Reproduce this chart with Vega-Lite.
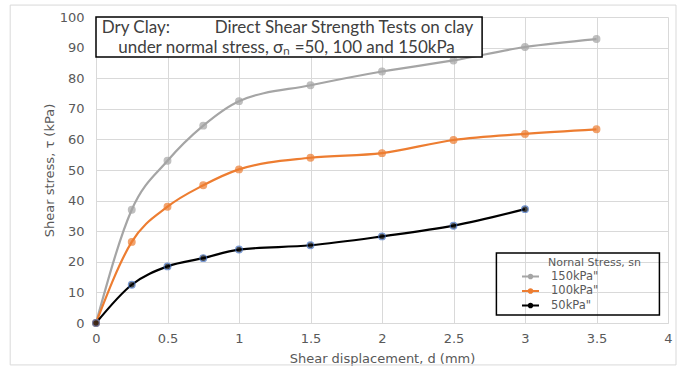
{
  "$schema": "https://vega.github.io/schema/vega-lite/v6.json",
  "width": 572,
  "height": 306,
  "autosize": "none",
  "padding": {"left": 96, "top": 17, "right": 18, "bottom": 49},
  "background": "white",
  "config": {
    "view": {"stroke": null},
    "font": "DejaVu Sans",
    "axis": {"gridColor": "#d9d9d9", "labelColor": "#595959", "titleColor": "#595959", "labelFont": "DejaVu Sans", "titleFont": "DejaVu Sans", "labelFontSize": 13, "titleFontSize": 13, "titleFontWeight": "normal", "ticks": false}
  },
  "datasets": {
    "curves": [
      {"d": 0, "tau": 0, "series": "150kPa\"", "ord": 1},
      {"d": 0.25, "tau": 37, "series": "150kPa\"", "ord": 1},
      {"d": 0.5, "tau": 53, "series": "150kPa\"", "ord": 1},
      {"d": 0.75, "tau": 64.5, "series": "150kPa\"", "ord": 1},
      {"d": 1, "tau": 72.5, "series": "150kPa\"", "ord": 1},
      {"d": 1.5, "tau": 77.7, "series": "150kPa\"", "ord": 1},
      {"d": 2, "tau": 82.2, "series": "150kPa\"", "ord": 1},
      {"d": 2.5, "tau": 85.8, "series": "150kPa\"", "ord": 1},
      {"d": 3, "tau": 90.2, "series": "150kPa\"", "ord": 1},
      {"d": 3.5, "tau": 92.8, "series": "150kPa\"", "ord": 1},
      {"d": 0, "tau": 0, "series": "100kPa\"", "ord": 2},
      {"d": 0.25, "tau": 26.5, "series": "100kPa\"", "ord": 2},
      {"d": 0.5, "tau": 38, "series": "100kPa\"", "ord": 2},
      {"d": 0.75, "tau": 45, "series": "100kPa\"", "ord": 2},
      {"d": 1, "tau": 50.2, "series": "100kPa\"", "ord": 2},
      {"d": 1.5, "tau": 54, "series": "100kPa\"", "ord": 2},
      {"d": 2, "tau": 55.5, "series": "100kPa\"", "ord": 2},
      {"d": 2.5, "tau": 59.8, "series": "100kPa\"", "ord": 2},
      {"d": 3, "tau": 61.8, "series": "100kPa\"", "ord": 2},
      {"d": 3.5, "tau": 63.3, "series": "100kPa\"", "ord": 2},
      {"d": 0, "tau": 0, "series": "50kPa\"", "ord": 3},
      {"d": 0.25, "tau": 12.5, "series": "50kPa\"", "ord": 3},
      {"d": 0.5, "tau": 18.5, "series": "50kPa\"", "ord": 3},
      {"d": 0.75, "tau": 21.2, "series": "50kPa\"", "ord": 3},
      {"d": 1, "tau": 24, "series": "50kPa\"", "ord": 3},
      {"d": 1.5, "tau": 25.4, "series": "50kPa\"", "ord": 3},
      {"d": 2, "tau": 28.3, "series": "50kPa\"", "ord": 3},
      {"d": 2.5, "tau": 31.8, "series": "50kPa\"", "ord": 3},
      {"d": 3, "tau": 37.2, "series": "50kPa\"", "ord": 3}
    ],
    "boxes": [
      {"d": -0.6, "d2": 4.056, "tau": -13.7, "tau2": 103.9, "kind": "outer"},
      {"d": 2.8, "d2": 3.94, "tau": 2.6, "tau2": 22.9, "kind": "legend"},
      {"d": 0, "d2": 2.7, "tau": 86.9, "tau2": 100, "kind": "title"}
    ]
  },
  "encoding": {
    "x": {"field": "d", "type": "quantitative", "scale": {"domain": [0, 4]},
      "axis": {"title": "Shear displacement, d (mm)", "values": [0, 0.5, 1, 1.5, 2, 2.5, 3, 3.5, 4], "format": "~g", "labelPadding": 9, "titlePadding": 7, "domainColor": "#d9d9d9", "labelFlush": false}},
    "y": {"field": "tau", "type": "quantitative", "scale": {"domain": [0, 100]},
      "axis": {"title": "Shear stress, τ (kPa)", "values": [0, 10, 20, 30, 40, 50, 60, 70, 80, 90, 100], "labelPadding": 12, "titlePadding": 3, "domain": false}}
  },
  "layer": [
    {
      "data": {"name": "boxes"},
      "transform": [{"filter": "datum.kind == 'outer'"}],
      "mark": {"type": "rect", "fill": null, "stroke": "#d9d9d9", "strokeWidth": 1, "clip": false},
      "encoding": {
        "x2": {"field": "d2"},
        "y2": {"field": "tau2"}
      }
    },
    {
      "data": {"name": "curves"},
      "mark": {"type": "line", "interpolate": "monotone", "strokeWidth": 2.2},
      "encoding": {
        "color": {"field": "series", "type": "nominal", "sort": ["150kPa\"", "100kPa\"", "50kPa\""],
          "scale": {"domain": ["150kPa\"", "100kPa\"", "50kPa\""], "range": ["#a5a5a5", "#ed7d31", "#000000"]},
          "legend": {"title": "Nornal Stress, sn", "orient": "none", "legendX": 452, "legendY": 240, "padding": 0, "titleFont": "DejaVu Sans", "labelFont": "DejaVu Sans", "titleFontSize": 11, "titleFontWeight": "normal", "titleColor": "#595959", "labelColor": "#595959", "labelFontSize": 11.5, "symbolType": "M-1.7,0L1.7,0M-0.35,0A0.35,0.35,0,1,0,0.35,0A0.35,0.35,0,1,0,-0.35,0Z", "symbolStrokeWidth": 2.2, "symbolSize": 100, "symbolOffset": -24, "labelOffset": 14, "titlePadding": 2, "rowPadding": 1.5,
            "encode": {"symbols": {"update": {"fill": {"scale": "color", "field": "value"}}}}}},
        "detail": {"field": "ord"}
      }
    },
    {
      "data": {"name": "curves"},
      "mark": {"type": "point", "filled": true, "size": 45, "strokeWidth": 1.2},
      "encoding": {
        "fill": {"field": "series", "type": "nominal", "scale": {"domain": ["150kPa\"", "100kPa\"", "50kPa\""], "range": ["#a5a5a5", "#ed7d31", "#000000"]}, "legend": null},
        "stroke": {"field": "series", "type": "nominal", "scale": {"domain": ["150kPa\"", "100kPa\"", "50kPa\""], "range": ["#a5a5a5", "#ed7d31", "#4472c4"]}, "legend": null}
      }
    },
    {
      "data": {"name": "boxes"},
      "transform": [{"filter": "datum.kind != 'outer'"}],
      "mark": {"type": "rect", "stroke": "black", "strokeWidth": 1.5},
      "encoding": {
        "x2": {"field": "d2"},
        "y2": {"field": "tau2"},
        "fillOpacity": {"condition": {"test": "datum.kind == 'title'", "value": 1}, "value": 0},
        "fill": {"value": "white"}
      }
    },
    {
      "data": {"values": [
        {"d": 0.04, "tau": 96.4, "t": "Dry Clay:"},
        {"d": 0.83, "tau": 96.4, "t": "Direct Shear Strength Tests on clay"},
        {"d": 0.155, "tau": 90.0, "t": "under normal stress, σₙ =50, 100 and 150kPa"}
      ]},
      "mark": {"type": "text", "font": "Lato", "fontSize": 17, "color": "#404040", "align": "left", "baseline": "middle"},
      "encoding": {
        "text": {"field": "t"}
      }
    }
  ]
}
